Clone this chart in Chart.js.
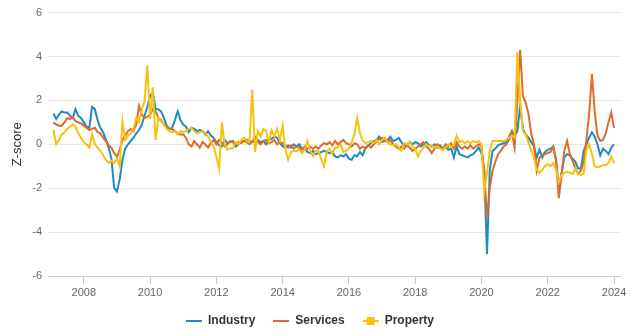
<!DOCTYPE html>
<html>
<head>
<meta charset="utf-8">
<script src="https://cdn.jsdelivr.net/npm/chart.js@4.4.1/dist/chart.umd.min.js"></script>
<style>
  html, body { margin: 0; padding: 0; background: #fff; }
  #chart { display: block; }
</style>
</head>
<body>
<canvas id="chart" width="634" height="336"></canvas>
<script>
// ================================
// DATA (monthly, Feb 2007 .. Jan 2024)
// ================================
const firstYear = 2007;
const firstMonth = 2; // February

const seriesNames = ["Industry", "Services", "Property"];
const seriesColors = ["#1e8cc2", "#dd6c29", "#f5c20f"];

const yTicks = [-6, -4, -2, 0, 2, 4, 6];
const xTicks = [2008, 2010, 2012, 2014, 2016, 2018, 2020, 2022, 2024];

const industry = [
  1.4, 1.15, 1.35, 1.5, 1.45, 1.45, 1.3, 1.2, 1.6, 1.3, 1.2,
  1.0, 0.8, 0.75, 1.7, 1.6, 1.1, 0.75, 0.55, 0.2, -0.15, -0.65, -2.0,
  -2.15, -1.6, -0.7, -0.2, 0.0, 0.15, 0.3, 0.5, 0.65, 0.9, 1.3, 1.7,
  2.2, 2.35, 1.6, 1.6, 1.5, 1.2, 0.85, 0.7, 0.75, 1.1, 1.5, 1.1,
  0.9, 0.8, 0.55, 0.75, 0.7, 0.6, 0.65, 0.6, 0.45, 0.6, 0.4, 0.3,
  0.1, -0.05, -0.1, 0.2, 0.05, 0.1, 0.15, -0.1, 0.0, 0.1, 0.15, 0.2,
  0.15, 0.1, 0.1, 0.2, 0.1, 0.15, 0.0, 0.2, 0.25, 0.35, 0.3, 0.05,
  -0.1, -0.15, -0.05, -0.15, 0.0, -0.1, 0.0, -0.2, -0.2, -0.35, -0.4, -0.3,
  -0.45, -0.4, -0.35, -0.3, -0.35, -0.4, -0.35, -0.55, -0.6, -0.5, -0.55, -0.45,
  -0.65, -0.7, -0.5, -0.55, -0.35, -0.5, -0.15, -0.05, 0.05, 0.15, 0.2, 0.35,
  0.1, 0.15, 0.2, 0.35, 0.15, 0.2, 0.3, 0.1, -0.05, 0.0, 0.1, 0.0,
  0.1, 0.05, -0.1, 0.0, 0.1, -0.05, -0.1, 0.0, -0.15, -0.05, -0.2, -0.1,
  -0.25, -0.2, -0.6, -0.1, -0.45, -0.5, -0.55, -0.6, -0.5, -0.45, -0.3, -0.15,
  -0.4, -1.2, -5.0, -1.2, -0.3, -0.2, -0.05, 0.0, 0.05, 0.1, 0.35, 0.6,
  0.4, 0.6, 1.75, 0.7, 0.45, 0.3, 0.1, -0.1, -0.6, -0.25, -0.6, -0.35,
  -0.25, -0.2, -0.1, -0.7, -2.0, -1.3, -0.6, -0.45, -0.5, -0.65, -0.8, -1.1,
  -1.1, -0.3, 0.0, 0.3, 0.55, 0.35, 0.0, -0.5, -0.2, -0.3, -0.45, -0.15,
  0.0
];

const services = [
  1.0, 0.9, 0.85, 0.85, 1.0, 1.2, 1.15, 1.25, 1.05, 1.0, 0.95,
  0.85, 0.75, 0.65, 0.7, 0.75, 0.55, 0.5, 0.3, 0.15, -0.05, -0.15, -0.4,
  -0.55, -0.25, 0.2, 0.4, 0.6, 0.7, 0.6, 0.9, 1.75, 1.35, 1.2, 1.25,
  1.35, 1.6, 1.5, 1.2, 1.1, 0.9, 0.8, 0.7, 0.7, 0.6, 0.5, 0.45,
  0.45, 0.3, 0.0, -0.1, 0.15, 0.0, -0.15, 0.1, 0.0, -0.15, 0.05, 0.2,
  0.0, 0.2, 0.05, -0.1, 0.0, 0.15, 0.1, 0.0, 0.1, 0.05, 0.15, 0.1,
  0.0, 0.1, 0.35, 0.1, 0.0, 0.15, 0.2, 0.05, 0.1, 0.2, 0.0, 0.1,
  0.05, -0.1, -0.15, -0.05, -0.2, -0.1, -0.15, -0.25, -0.1, -0.2, -0.1, -0.2,
  -0.1, -0.2, -0.05, 0.05, 0.0, 0.1, -0.05, 0.15, 0.0, 0.1, 0.2, 0.05,
  0.0, -0.1, 0.05, 0.0, -0.2, -0.1, -0.2, -0.05, -0.15, 0.0, 0.1, 0.25,
  0.3, 0.15, 0.1, 0.2, 0.0, -0.1, -0.2, -0.1, -0.2, -0.05, -0.15, -0.3,
  -0.2, -0.1, 0.0, 0.1, -0.1, -0.2, -0.4, -0.2, 0.0, -0.1, -0.25, 0.0,
  -0.1, 0.05, -0.2, 0.1, -0.1, -0.2, -0.1, -0.2, -0.05, -0.2, -0.1, 0.0,
  -0.1, -1.2, -3.4, -2.0, -1.2, -0.8, -0.45, -0.3, -0.1, 0.0, 0.2, 0.55,
  -0.15, 2.0, 4.3, 2.2, 1.9, 1.4, 0.5, 0.0, -1.2, -0.6, -0.5, -0.45,
  -0.4, -0.35, -0.1, -0.75, -2.45, -1.4, -0.3, 0.15, -0.45, -0.75, -1.1, -1.35,
  -1.2, -0.8, 0.2, 1.4, 3.2, 1.5, 0.4, 0.15, 0.2, 0.5, 1.0, 1.45,
  0.75
];

const property = [
  0.65, 0.0, 0.2, 0.45, 0.55, 0.7, 0.8, 0.9, 0.8, 0.5, 0.3,
  0.1, 0.0, -0.15, 0.45, 0.0, -0.15, -0.3, -0.5, -0.7, -0.85, -0.75, -0.85,
  -0.65, -1.0, 1.05, 0.2, 0.4, 0.5, 0.7, 1.2, 1.0, 1.6, 1.95, 3.6,
  1.15, 2.6, 0.2, 1.2, 1.05, 0.9, 0.7, 0.6, 0.55, 0.6, 0.45, 0.6,
  0.55, 0.6, 0.7, 0.75, 0.6, 0.5, 0.55, 0.6, 0.5, 0.35, 0.1, -0.1,
  -0.55, -1.1, 1.0, 0.0, -0.25, -0.2, -0.15, 0.1, 0.0, 0.2, 0.3, 0.15,
  0.1, 2.5, -0.35, 0.6, 0.35, 0.7, 0.6, 0.1, 0.65, 0.35, 0.7, 0.2,
  0.85, -0.25, -0.7, -0.35, -0.3, -0.3, -0.25, -0.4, -0.25, 0.15, -0.3, -0.55,
  -0.3, -0.3, -0.7, -1.0, -0.3, -0.2, -0.45, -0.15, -0.15, 0.0, -0.35, -0.3,
  -0.2, 0.1, 0.45, 1.2, 0.5, 0.15, 0.05, 0.1, 0.15, 0.05, 0.2, 0.0,
  0.2, 0.3, 0.1, 0.0, -0.05, 0.0, -0.15, -0.3, 0.05, 0.0, 0.1, -0.1,
  -0.2, -0.55, -0.3, -0.15, 0.0, -0.1, -0.05, -0.15, -0.1, -0.2, -0.25, -0.15,
  0.0, -0.1, -0.05, 0.4, 0.1, 0.15, 0.05, 0.15, 0.05, 0.15, 0.1, 0.15,
  0.0, -2.15, -1.3, -0.3, 0.15, 0.15, 0.15, 0.15, 0.15, 0.2, 0.3, 0.4,
  0.3, 4.2, 2.0, 0.6, 0.45, 0.1, -0.3, -0.6, -1.15, -1.3, -1.15, -1.0,
  -0.9, -1.0, -0.85, -1.15, -1.75, -1.4, -1.3, -1.25, -1.3, -1.35, -1.1, -1.35,
  -1.4, -1.35, -0.25, 0.0, -0.45, -1.0, -1.05, -1.0, -0.95, -0.95, -0.85, -0.55,
  -0.85
];

// month positions as decimal years (start of month)
const months = industry.map((_, i) => firstYear + (firstMonth - 1 + i) / 12);

function points(values) {
  return values.map((v, i) => ({ x: months[i], y: v }));
}

// legend symbol: short line, optional square marker
function legendSymbol(color, marker) {
  const c = document.createElement("canvas");
  c.width = 16;
  c.height = 12;
  const g = c.getContext("2d");
  g.strokeStyle = color;
  g.lineWidth = 2;
  g.beginPath();
  g.moveTo(0, 6);
  g.lineTo(16, 6);
  g.stroke();
  if (marker) {
    g.fillStyle = color;
    g.fillRect(4, 2, 8, 8);
  }
  return c;
}

Chart.defaults.font.family = '"Liberation Sans", Arial, sans-serif';

const allSeries = [industry, services, property];

new Chart(document.getElementById("chart"), {
  type: "line",
  data: {
    datasets: allSeries.map((vals, i) => ({
      label: seriesNames[i],
      data: points(vals),
      borderColor: seriesColors[i],
      backgroundColor: seriesColors[i],
      borderWidth: 2,
      pointRadius: 0,
      tension: 0,
      order: 2 - i,
      pointStyle: legendSymbol(seriesColors[i], i === 2)
    }))
  },
  options: {
    responsive: false,
    animation: false,
    layout: { padding: { top: 8, right: 14, left: 0, bottom: -1 } },
    plugins: {
      tooltip: { enabled: false },
      legend: {
        position: "bottom",
        labels: {
          usePointStyle: true,
          pointStyleWidth: 16,
          padding: 18,
          color: "#333",
          font: { size: 12, weight: "bold" },
          sort: (a, b) => a.datasetIndex - b.datasetIndex
        }
      }
    },
    scales: {
      x: {
        type: "linear",
        min: 2006.92,
        max: 2024.18,
        afterFit: (s) => { s.height = 21; },
        grid: {
          drawOnChartArea: false,
          drawTicks: true,
          tickLength: 8,
          color: "#c8c8c8"
        },
        border: { display: true, color: "#c8c8c8" },
        afterBuildTicks: (s) => { s.ticks = xTicks.map(v => ({ value: v })); },
        ticks: {
          color: "#666",
          font: { size: 11 },
          padding: 2,
          maxRotation: 0,
          callback: (v) => String(v)
        }
      },
      y: {
        min: -6,
        max: 6,
        afterBuildTicks: (s) => { s.ticks = yTicks.map(v => ({ value: v })); },
        afterFit: (s) => { s.width = 48; },
        grid: { color: "#e6e6e6", drawTicks: false },
        border: { display: false },
        ticks: { color: "#666", font: { size: 11 }, padding: 6 },
        title: {
          display: true,
          text: "Z-score",
          color: "#333",
          font: { size: 13 },
          padding: { top: 10, bottom: 0 }
        }
      }
    }
  }
});
</script>
</body>
</html>
